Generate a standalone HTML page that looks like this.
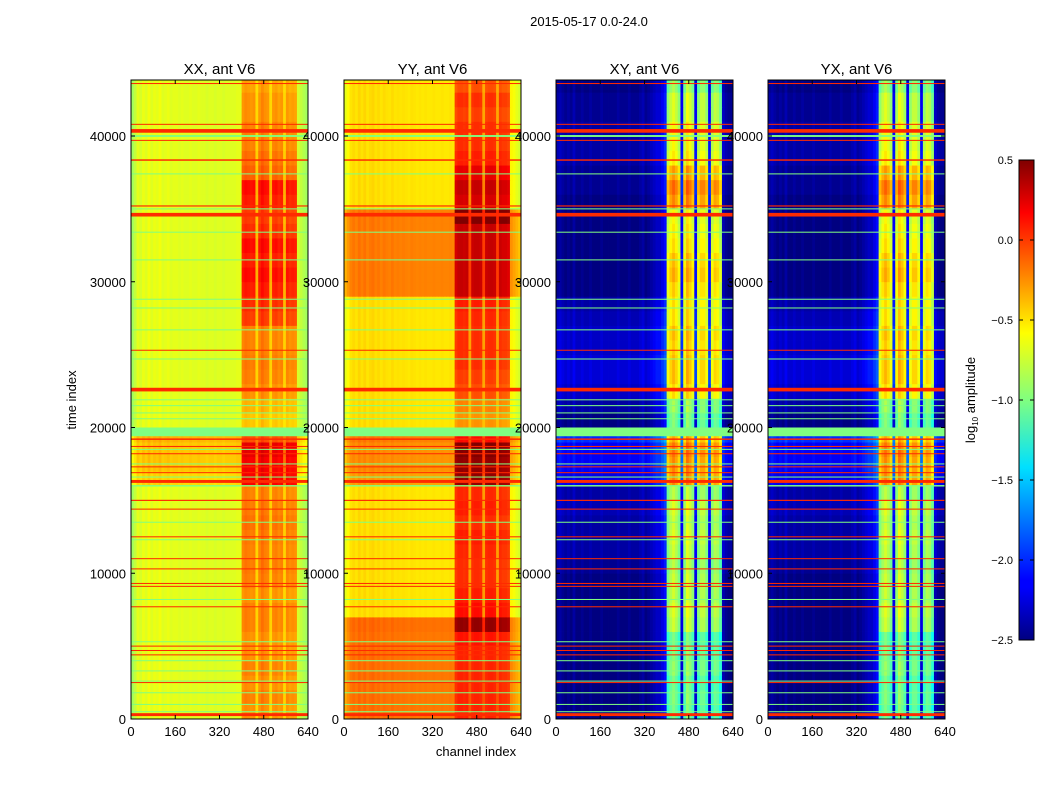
<!DOCTYPE html>
<html><head><meta charset="utf-8"><style>
body{margin:0;background:#fff;}
svg{display:block;font-family:"Liberation Sans",sans-serif;}
</style></head><body>
<svg id="fig" width="1050" height="800" viewBox="0 0 1050 800">
<defs>
<linearGradient id="jetGrad" x1="0" y1="1" x2="0" y2="0">
<stop offset="0" stop-color="#000080"/><stop offset="0.11" stop-color="#0000ff"/><stop offset="0.125" stop-color="#0000ff"/>
<stop offset="0.36" stop-color="#00e0ff"/><stop offset="0.5" stop-color="#80ff80"/><stop offset="0.64" stop-color="#ffff00"/>
<stop offset="0.89" stop-color="#ff0000"/><stop offset="1" stop-color="#800000"/>
</linearGradient>
</defs>
<text x="589" y="26" font-size="13" text-anchor="middle">2015-05-17 0.0-24.0</text>
<g id="panels"></g>
<text transform="translate(76,400) rotate(-90)" font-size="13" text-anchor="middle">time index</text>
<text x="476" y="756" font-size="13" text-anchor="middle">channel index</text>
<g>
<rect x="1019" y="160" width="15" height="480" fill="url(#jetGrad)" stroke="#000" stroke-width="1"/>
<g id="cbticks"></g>
<text transform="translate(975,400) rotate(-90)" font-size="13" text-anchor="middle">log<tspan font-size="8" dy="3">10</tspan><tspan dy="-3"> amplitude</tspan></text>
</g>
</svg>
<script>
// ---- data ----
const panelTitles = ["XX, ant V6","YY, ant V6","XY, ant V6","YX, ant V6"];
const xTicks = [0,160,320,480,640];
const yTicks = [0,10000,20000,30000,40000];
const cbTicks = [0.5,0,-0.5,-1,-1.5,-2,-2.5];
const bandAmp = [0,0,0,0,0,0,0,0,0,0,0,0,0,0,0,0,0,0,0,0,0,0,0,0,0,0,0,0,0,0,0,0,0,0,0,0,0,0,0,0,
 1,1,1,1,1,0.3,1,1,1,1,0.3,1,1,1,1,0.3,1,1,1,1,0,0,0,0];
const colXX = [-0.9,-0.8,-0.7,-0.74,-0.68,-0.72,-0.66,-0.72,-0.68,-0.7,-0.66,-0.72,-0.7,-0.68,-0.72,-0.7,-0.7,-0.72,-0.7,-0.72,
 -0.72,-0.7,-0.72,-0.72,-0.7,-0.72,-0.72,-0.74,-0.72,-0.72,-0.74,-0.72,-0.72,-0.74,-0.72,-0.72,-0.72,-0.72,-0.7,-0.7,
 -0.62,-0.58,-0.6,-0.62,-0.6,-0.6,-0.62,-0.55,-0.6,-0.62,-0.6,-0.62,-0.6,-0.65,-0.62,-0.6,-0.62,-0.66,-0.64,-0.66,-0.75,-0.8,-0.85,-0.9];
const colYY = [-0.7,-0.62,-0.55,-0.52,-0.55,-0.5,-0.54,-0.5,-0.55,-0.52,-0.5,-0.54,-0.52,-0.55,-0.52,-0.54,-0.55,-0.52,-0.55,-0.54,
 -0.55,-0.54,-0.55,-0.56,-0.54,-0.55,-0.56,-0.55,-0.56,-0.55,-0.56,-0.56,-0.55,-0.56,-0.56,-0.55,-0.56,-0.56,-0.55,-0.56,
 -0.55,-0.5,-0.5,-0.52,-0.5,-0.5,-0.52,-0.5,-0.5,-0.52,-0.5,-0.52,-0.5,-0.5,-0.52,-0.5,-0.52,-0.55,-0.55,-0.58,-0.6,-0.65,-0.7,-0.75];
const colXY = [-2.45,-2.4,-2.45,-2.5,-2.45,-2.5,-2.4,-2.5,-2.5,-2.45,-2.5,-2.5,-2.45,-2.5,-2.5,-2.5,-2.45,-2.5,-2.5,-2.5,
 -2.5,-2.5,-2.45,-2.5,-2.5,-2.5,-2.45,-2.5,-2.5,-2.5,-2.45,-2.4,-2.5,-2.45,-2.4,-2.35,-2.3,-2.3,-2.2,-2.1,
 -1.35,-1.2,-1.1,-1.2,-1.35,-2.3,-1.3,-1.05,-1.15,-1.3,-2.3,-1.35,-1.2,-1.2,-1.35,-2.3,-1.35,-1.2,-1.25,-1.45,-2.35,-2.45,-2.5,-2.5];
// per 1000-time-unit rows (44 rows)
const bandXX = [0.3,0.35,0.3,0.35,0.3,0.3,0.35,0.35,0.3,0.35,0.37,0.35,0.37,0.4,0.37,0.35,0.55,0.5,0.55,0.2,0.15,0.2,0.3,0.35,0.37,0.35,0.35,0.55,0.6,0.65,0.7,0.65,0.7,0.6,0.55,0.65,0.7,0.45,0.4,0.35,0.35,0.3,0.3,0.25];
const shiftXX = [0,0,0,0,0,0,0,0,0,0,0,0,0,0,0,0,0.2,0.25,0.25,0.3,0,0,0,0,0,0,0,0,0,0,0,0,0,0,0,0,0,0,0,0,0,0,0,0];
const bandYY = [0.2,0.2,0.2,0.2,0.2,0.25,0.6,0.6,0.55,0.5,0.5,0.52,0.55,0.5,0.55,0.52,0.75,0.7,0.75,0.3,0.2,0.25,0.4,0.45,0.5,0.5,0.5,0.52,0.55,0.5,0.5,0.5,0.5,0.5,0.75,0.75,0.8,0.7,0.55,0.5,0.5,0.45,0.5,0.4];
const shiftYY = [0.33,0.33,0.33,0.33,0.33,0.33,0.35,0,0,0,0,0,0,0,0,0,0.2,0.25,0.25,0.3,0,0,0,0,0,0,0,0,0,0.3,0.3,0.3,0.3,0.3,0.3,0,0,0,0,0,0,0,0,0];
const bandXY = [0.1,0.15,0.1,0.2,0.15,0.1,0.35,0.4,0.35,0.35,0.25,0.25,0.3,0.25,0.25,0.2,0.55,0.5,0.55,0.25,0.15,0.15,0.4,0.45,0.45,0.45,0.5,0.45,0.5,0.65,0.75,0.7,0.6,0.55,0.5,0.85,0.9,0.75,0.45,0.4,0.4,0.35,0.35,0.25];
const shiftXY = [0,0,0,0,0,0,0,0,0,0,0.05,0.1,0.1,0.1,0.15,0.1,0.3,0.35,0.35,0.5,0,0.1,0.2,0.25,0.25,0.2,0.2,0.15,0.1,0,0,0,0,0,0,0,0.05,0.05,0.1,0.1,0.1,0.05,0.05,0];
const panelCols = [colXX, colYY, colXY, colXY];
const panelBand = [bandXX, bandYY, bandXY, bandXY];
const panelShift = [shiftXX, shiftYY, shiftXY, shiftXY];
// flagged rows: time, log value, thickness (time units)
const flagT = [43600,40800,40350,39700,38350,35200,34600,25300,22600,19200,18700,18200,17300,16900,16300,15000,14400,12500,11000,10300,9300,9100,7700,5000,4700,4400,2500,300,
 40000,37400,35000,33400,31500,28800,28200,26700,24700,21900,21500,21000,20600,19700,18500,17500,16600,16000,13500,12300,8200,5300,4000,3300,2600,1800,1000,500];
const flagV = [0,0,0,0,0,0,0,0,0,0,0,0,0,0,0,0,0,0,0,0,0,0,0,0,0,0,0,0,
 -1,-1,-1,-1,-1,-1,-1,-1,-1,-1,-1,-1,-1,-1,-1,-1,-1,-1,-1,-1,-1,-1,-1,-1,-1,-1,-1,-1];
const flagW = [70,70,250,70,100,80,250,70,250,100,70,70,70,70,200,80,70,70,70,70,70,70,70,70,70,70,70,200,
 130,70,70,70,70,70,70,70,70,70,70,70,70,600,70,70,70,100,70,70,70,70,70,70,70,70,70,70];
// ---- layout ----
const NS="http://www.w3.org/2000/svg";
const panelX=[131,344,556,768], PW=177, PT=80, PB=719;
const T_PER_PX = 1/0.014575, TMAX=(PB-PT)*T_PER_PX;
const NCH=640, CBIN=10, TBIN=1000;
function yS(t){return PB - t*0.014575;}
function xS(p,ch){return panelX[p] + ch/NCH*PW;}
function cS(v){return 640 - (v+2.5)/3*480;}
function jet(v){let n=(v+2.5)/3;n=Math.max(0,Math.min(1,n));
 const f=x=>Math.round(255*Math.max(0,Math.min(1,1.5-Math.abs(x))));
 return `rgb(${f(4*n-3)},${f(4*n-2)},${f(4*n-1)})`;}
function el(tag,attrs,parent){const e=document.createElementNS(NS,tag);for(const k in attrs)e.setAttribute(k,attrs[k]);parent.appendChild(e);return e;}
const root=document.getElementById('panels');
for(let p=0;p<4;p++){
 const g=el('g',{},root);
 
 
 const clipId='clip'+p;
 const cp=el('clipPath',{id:clipId},g); el('rect',{x:panelX[p],y:PT,width:PW,height:PB-PT},cp);
 const hm=el('g',{'clip-path':`url(#${clipId})`},g);
 
 
 const cols=panelCols[p], band=panelBand[p], sh=panelShift[p];
 for(let r=0;r<band.length;r++){
  const t0=r*TBIN, t1=Math.min((r+1)*TBIN, TMAX+TBIN);
  for(let c=0;c<cols.length;c++){
   const v=cols[c]+bandAmp[c]*band[r]+sh[r];
   const x0=xS(p,c*CBIN), x1=xS(p,(c+1)*CBIN);
   const y0=yS(t1), y1=yS(t0);
   const rc=el('rect',{x:x0.toFixed(2),y:y0.toFixed(2),width:(x1-x0+0.4).toFixed(2),height:(y1-y0+0.4).toFixed(2),fill:jet(v)},hm);
   
   
  }
 }
 for(let i=0;i<flagT.length;i++){
  const h=Math.max(1, flagW[i]*0.014575);
  const fl=el('rect',{x:panelX[p],y:(yS(flagT[i])-h/2).toFixed(2),width:PW,height:h.toFixed(2),fill:jet(flagV[i])},hm);
  
  
 }
 const fr=el('rect',{x:panelX[p],y:PT,width:PW,height:PB-PT,fill:'none',stroke:'#000','stroke-width':1},g);
 
 
 const tt=el('text',{x:panelX[p]+PW/2,y:74,'font-size':15,'text-anchor':'middle'},g);
 tt.textContent=panelTitles[p];
 
 
 for(const xt of xTicks){
  const x=xS(p,xt);
  el('line',{x1:x,y1:PB,x2:x,y2:PB-4,stroke:'#000'},g);
  el('line',{x1:x,y1:PT,x2:x,y2:PT+4,stroke:'#000'},g);
  const tl=el('text',{x:x,y:736,'font-size':13,'text-anchor':'middle'},g);
  tl.textContent=xt;
  
  
 }
 for(const yt of yTicks){
  const y=yS(yt);
  el('line',{x1:panelX[p],y1:y,x2:panelX[p]+4,y2:y,stroke:'#000'},g);
  el('line',{x1:panelX[p]+PW,y1:y,x2:panelX[p]+PW-4,y2:y,stroke:'#000'},g);
  const tl=el('text',{x:panelX[p]-5,y:y+5,'font-size':13,'text-anchor':'end'},g);
  tl.textContent=yt;
  
  
 }
}
const cbg=document.getElementById('cbticks');
for(const v of cbTicks){
 const y=cS(v);
 el('line',{x1:1019,y1:y,x2:1023,y2:y,stroke:'#000'},cbg);
 el('line',{x1:1034,y1:y,x2:1030,y2:y,stroke:'#000'},cbg);
 const tl=el('text',{x:1013,y:y+4,'font-size':11,'text-anchor':'end'},cbg);
 tl.textContent=(v<0?'\u2212':'')+Math.abs(v).toFixed(1);
 
 
}
</script>
</body></html>
